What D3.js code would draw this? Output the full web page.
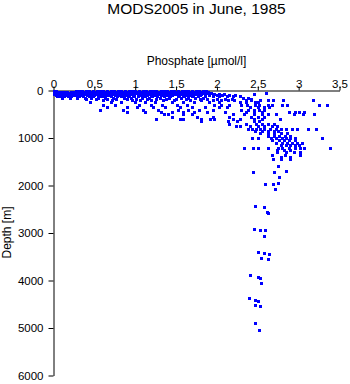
<!DOCTYPE html>
<html><head><meta charset="utf-8">
<script src="https://cdn.jsdelivr.net/npm/d3@7"></script>
<style>body{margin:0;background:#fff}svg{display:block}text{font-family:"Liberation Sans",Arial,sans-serif;fill:#000}</style>
</head><body><svg id="c" width="350" height="384"></svg>
<script>
const title = "MODS2005 in June, 1985";
const xLabel = "Phosphate [\u00b5mol/l]";
const yLabel = "Depth [m]";
const xTicks = [0, 0.5, 1, 1.5, 2, 2.5, 3, 3.5];
const xTickLabels = ["0", "0.5", "1", "1.5", "2", "2.5", "3", "3.5"];
const yTicks = [0, 1000, 2000, 3000, 4000, 5000, 6000];

// standard depth levels (m) and phosphate values observed at each level
const depthLevels = [0,25,50,75,100,125,150,175,200,250,300,350,400,450,500,550,600,650,700,750,800,850,900,950,1000,1050,1100,1150,1200,1250,1300,1350,1400,1450];
const phosphateAtLevel = [
 [0.00,0.03,0.27,0.31,0.35,0.40,0.44,0.48,0.53,0.57,0.61,0.66,0.70,0.74,0.79,0.83,0.87,0.92,0.96,1.00,1.05,1.09,1.13,1.18,1.22,1.26,1.31,1.35,1.39,1.44,1.48,1.52,1.57,1.61,1.65,1.70,1.74,1.78,1.83,1.87],
 [0.01,0.05,0.09,0.13,0.17,0.21,0.25,0.29,0.34,0.38,0.42,0.46,0.51,0.55,0.59,0.64,0.68,0.72,0.77,0.81,0.85,0.90,0.94,0.98,1.03,1.07,1.11,1.16,1.20,1.24,1.29,1.33,1.37,1.42,1.46,1.50,1.55,1.59,1.63,1.68,1.72,1.76,1.81,1.85,1.89],
 [0.02,0.06,0.10,0.14,0.19,0.23,0.27,0.32,0.36,0.40,0.45,0.49,0.53,0.58,0.62,0.66,0.71,0.75,0.79,0.84,0.88,0.92,0.97,1.01,1.05,1.10,1.14,1.18,1.23,1.27,1.31,1.36,1.40,1.44,1.49,1.53,1.57,1.62,1.66,1.70,1.75,1.79,1.84,1.88,1.93,2.60],
 [0.00,0.04,0.08,0.12,0.16,0.21,0.25,0.30,0.34,0.38,0.43,0.47,0.51,0.56,0.60,0.64,0.69,0.73,0.77,0.82,0.86,0.90,0.95,0.99,1.03,1.08,1.12,1.16,1.21,1.25,1.29,1.34,1.38,1.42,1.47,1.51,1.55,1.60,1.64,1.68,1.73,1.77,1.81,1.86,1.97,2.03,2.09,2.45],
 [0.03,0.07,0.11,0.15,0.20,0.24,0.28,0.33,0.41,0.45,0.50,0.54,0.58,0.63,0.67,0.75,0.80,0.84,0.88,0.93,0.97,1.06,1.10,1.14,1.19,1.23,1.32,1.36,1.40,1.45,1.53,1.58,1.62,1.66,1.71,1.79,1.90,2.00,2.06,2.15,2.22],
 [0.04,0.08,0.13,0.18,0.22,0.31,0.36,0.44,0.48,0.57,0.61,0.70,0.78,0.82,0.91,0.99,1.04,1.12,1.21,1.27,1.35,1.43,1.52,1.60,1.69,1.77,1.85,1.95,2.03,2.12,2.20,2.28],
 [0.10,0.20,0.29,0.39,0.46,0.55,0.63,0.73,0.86,0.95,1.08,1.17,1.30,1.41,1.56,1.64,1.73,1.83,2.32,2.38],
 [0.40,0.52,0.65,0.77,0.90,1.01,1.15,1.26,1.38,1.50,1.62,1.79,1.88,2.00,2.10,2.18,2.42],
 [0.60,0.72,0.96,1.06,1.19,1.34,1.47,1.67,1.81,1.95,2.05,2.13,2.21,2.35,2.42,2.53,2.63,2.69,2.81,3.17],
 [0.45,0.70,0.82,1.00,1.12,1.24,1.45,1.58,1.72,1.90,2.02,2.28,2.36,2.47,2.50],
 [0.60,0.75,1.05,1.19,1.33,1.51,1.63,1.96,2.05,2.15,2.30,2.37,2.46,2.52,2.63,2.67,2.80,2.86,3.25,3.35],
 [0.65,0.90,1.02,1.22,1.37,1.55,1.70,1.85,2.03,2.12,2.40,2.50,2.58,2.64],
 [0.57,0.85,1.10,1.28,1.52,1.64,1.78,1.95,2.30,2.38,2.45,2.52,2.58],
 [0.90,1.12,1.32,1.45,1.58,1.72,1.88,2.10,2.35,2.45,2.55,2.88,2.95,3.01,3.07],
 [1.35,1.40,1.58,1.70,2.20,2.33,2.45,2.55,2.62,2.72,2.94,3.05,3.19],
 [1.45,1.75,1.95,2.15,2.42,2.50,2.58],
 [1.25,1.55,1.59,1.80,1.91,1.96,2.20,2.28,2.45,2.55,2.77],
 [1.80,2.14,2.25,2.45,2.52],
 [2.15,2.35,2.48,2.55,2.62,2.70],
 [2.23,2.28,2.40,2.50,2.58,2.68,2.74],
 [2.38,2.43,2.48,2.53,2.58,2.65,2.72,2.78,2.85,2.92,2.98,3.11,3.21],
 [2.47,2.55,2.62,2.70,2.75],
 [2.53,2.62,2.70,2.78,2.86],
 [2.62,2.70,2.76,2.83,2.90],
 [2.43,2.50,2.66,2.72,2.80,2.85,2.90,2.96,3.29],
 [2.68,2.76,2.82,2.88,2.95],
 [2.72,2.80,2.86,2.92,2.98,3.04],
 [2.78,2.84,2.90,2.96,3.00],
 [2.33,2.44,2.50,2.63,2.75,2.80,2.88,2.95,3.02,3.07,3.38],
 [2.74,2.82,2.90],
 [2.73,2.85,2.94,3.02],
 [2.68,2.83,3.02],
 [2.78,2.89],
 [2.69,2.78,2.89]
];
// individual deeper observations
const deepPhosphate = [2.75,2.44,2.70,2.84,2.76,2.59,2.69,2.75,2.71,2.47,2.57,2.61,2.63,2.45,2.53,2.59,2.57,2.50,2.57,2.64,2.54,2.62,2.40,2.50,2.53,2.54,2.39,2.46,2.50,2.47,2.53,2.47,2.52];
const deepDepth     = [1586,1712,1712,1698,1817,1958,1965,1951,2070,2442,2450,2555,2570,2912,2933,2940,3053,3390,3417,3440,3523,3543,3874,3916,3943,4049,4365,4400,4436,4512,4541,4891,5038];

const points = [];
depthLevels.forEach((d, i) => phosphateAtLevel[i].forEach(p => points.push({p, d})));
deepPhosphate.forEach((p, i) => points.push({p, d: deepDepth[i]}));

const FONT = '"Liberation Sans",Arial,sans-serif';
const svg = d3.select("#c");
const x = d3.scaleLinear().domain([0, 3.5]).range([53.5, 339.5]);
const y = d3.scaleLinear().domain([0, 6000]).range([90.5, 375.5]);

svg.append("text").attr("x", 196.5).attr("y", 14).attr("text-anchor", "middle")
  .style("font-size", "15.5px").text(title);
svg.append("text").attr("x", 196.5).attr("y", 65).attr("text-anchor", "middle")
  .style("font-size", "12px").text(xLabel);
svg.append("text").attr("transform", "translate(11,232.5) rotate(-90)").attr("text-anchor", "middle")
  .style("font-size", "12px").text(yLabel);

svg.append("g").attr("transform", "translate(0,90.5)")
  .call(d3.axisTop(x).tickValues(xTicks).tickFormat((d, i) => xTickLabels[i]).tickSize(4).tickSizeOuter(0).tickPadding(-1))
  .call(g => { g.selectAll("text").style("font-size", "11.5px").style("font-family", FONT).attr("fill", "#000"); g.selectAll("line,path").attr("stroke", "#000"); });
svg.append("g").attr("transform", "translate(53.5,0)")
  .call(d3.axisLeft(y).tickValues(yTicks).tickFormat(d3.format("d")).tickSize(5).tickSizeOuter(0).tickPadding(5))
  .call(g => { g.selectAll("text").style("font-size", "11.5px").style("font-family", FONT).attr("fill", "#000"); g.selectAll("line,path").attr("stroke", "#000"); });

svg.append("g").selectAll("rect").data(points).join("rect")
  .attr("x", d => Math.round(x(d.p)) - 1.5).attr("y", d => Math.round(y(d.d)) - 1.5)
  .attr("width", 3).attr("height", 3).attr("fill", "#0000ff").attr("shape-rendering", "crispEdges");
</script></body></html>
